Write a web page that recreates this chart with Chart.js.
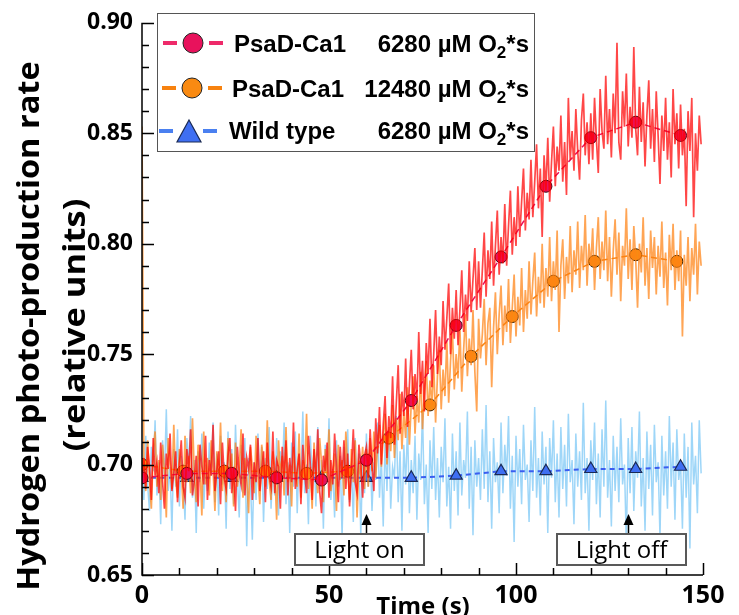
<!DOCTYPE html>
<html>
<head>
<meta charset="utf-8">
<title>Hydrogen photo-production</title>
<script src="https://cdn.jsdelivr.net/npm/chart.js@4.4.1/dist/chart.umd.min.js"></script>
<style>
    html, body { margin: 0; padding: 0; background: #fff; }
    #wrap { position: relative; width: 739px; height: 615px; overflow: hidden; }
    #myChart { position: absolute; left: 0; top: 0; }
    .legend {
        position: absolute; left: 157px; top: 13px; width: 378px; height: 139px;
        box-sizing: border-box; border: 1.5px solid #555;
        font-family: "Liberation Sans", Arial, sans-serif; font-weight: bold; font-size: 24px; color: #000;
    }
    .legend svg { position: absolute; left: -1.5px; top: -1.5px; }
    .legend span { position: absolute; line-height: 26px; white-space: nowrap; }
    .legend .dose { right: 5px; }
    .legend sub { font-size: 17px; vertical-align: -6px; line-height: 0; }
    .note {
        position: absolute; top: 533px; height: 33px; box-sizing: border-box;
        border: 2px solid #595959; background: #fff;
        font-family: "Open Sans", sans-serif; font-size: 24px; line-height: 28px; text-align: center; color: #000;
    }
</style>
</head>
<body>
<div id="wrap">
    <canvas id="myChart" width="739" height="615"></canvas>
    <div class="legend">
        <svg width="378" height="139">
            <line x1="6" y1="30" x2="20" y2="30" stroke="#ee2a6a" stroke-width="4"/>
            <line x1="52" y1="30" x2="66" y2="30" stroke="#ee2a6a" stroke-width="4"/>
            <circle cx="36" cy="30" r="10" fill="#e8125c" stroke="#222" stroke-width="1"/>
            <line x1="5" y1="75" x2="19" y2="75" stroke="#f7820f" stroke-width="4"/>
            <line x1="51" y1="75" x2="65" y2="75" stroke="#f7820f" stroke-width="4"/>
            <circle cx="35" cy="75" r="10" fill="#f98a12" stroke="#222" stroke-width="1"/>
            <line x1="2" y1="118" x2="16" y2="118" stroke="#4a80f0" stroke-width="4"/>
            <line x1="46" y1="118" x2="60" y2="118" stroke="#4a80f0" stroke-width="4"/>
            <polygon points="32,107 44,129 20,129" fill="#3f6ff2" stroke="#1a2a55" stroke-width="1.2"/>
        </svg>
        <span style="left:76px; top:17px;">PsaD-Ca1</span>
        <span class="dose" style="top:17px;">6280 µM O<sub>2</sub>*s</span>
        <span style="left:74px; top:62px;">PsaD-Ca1</span>
        <span class="dose" style="top:62px;">12480 µM O<sub>2</sub>*s</span>
        <span style="left:71px; top:104px;">Wild type</span>
        <span class="dose" style="top:104px;">6280 µM O<sub>2</sub>*s</span>
    </div>
    <div class="note" style="left:294px; width:131px;">Light on</div>
    <div class="note" style="left:556px; width:131px;">Light off</div>
</div>
<script>
// traces sampled every 0.5 s, t = 0 .. 149.5 s
const sampleStep = 0.5;

const redRate = [
    0.694, 0.703, 0.689, 0.708, 0.699, 0.684, 0.712, 0.695, 0.701, 0.687,
    0.710, 0.692, 0.680, 0.705, 0.698, 0.714, 0.688, 0.696, 0.706, 0.683,
    0.700, 0.711, 0.690, 0.685, 0.707, 0.697, 0.716, 0.686, 0.693, 0.704,
    0.681, 0.709, 0.699, 0.691, 0.713, 0.684, 0.702, 0.695, 0.718, 0.688,
    0.697, 0.706, 0.682, 0.710, 0.694, 0.689, 0.704, 0.712, 0.687, 0.699,
    0.679, 0.708, 0.696, 0.691, 0.714, 0.686, 0.703, 0.698, 0.709, 0.684,
    0.701, 0.692, 0.712, 0.688, 0.697, 0.706, 0.683, 0.710, 0.695, 0.690,
    0.715, 0.687, 0.702, 0.699, 0.680, 0.708, 0.694, 0.711, 0.686, 0.703,
    0.692, 0.719, 0.689, 0.698, 0.705, 0.682, 0.709, 0.696, 0.687, 0.713,
    0.700, 0.684, 0.707, 0.693, 0.716, 0.688, 0.678, 0.704, 0.697, 0.710,
    0.685, 0.702, 0.691, 0.714, 0.699, 0.683, 0.708, 0.694, 0.711, 0.689,
    0.705, 0.681, 0.698, 0.716, 0.692, 0.687, 0.709, 0.700, 0.685, 0.704,
    0.708, 0.694, 0.716, 0.699, 0.688, 0.721, 0.705, 0.726, 0.700, 0.718,
    0.731, 0.703, 0.722, 0.712, 0.740, 0.709, 0.728, 0.745, 0.714, 0.733,
    0.722, 0.748, 0.717, 0.736, 0.752, 0.725, 0.741, 0.729, 0.760, 0.732,
    0.747, 0.724, 0.755, 0.741, 0.766, 0.735, 0.750, 0.770, 0.741, 0.758,
    0.745, 0.774, 0.752, 0.766, 0.782, 0.750, 0.771, 0.757, 0.779, 0.754,
    0.770, 0.788, 0.760, 0.777, 0.765, 0.792, 0.769, 0.784, 0.798, 0.770,
    0.792, 0.771, 0.788, 0.805, 0.776, 0.797, 0.784, 0.810, 0.781, 0.799,
    0.815, 0.786, 0.803, 0.791, 0.818, 0.790, 0.808, 0.824, 0.795, 0.812,
    0.799, 0.826, 0.803, 0.819, 0.834, 0.806, 0.823, 0.811, 0.838, 0.812,
    0.828, 0.845, 0.816, 0.834, 0.803, 0.840, 0.824, 0.848, 0.819, 0.837,
    0.853, 0.826, 0.844, 0.833, 0.858, 0.828, 0.846, 0.822, 0.866, 0.838,
    0.851, 0.833, 0.861, 0.842, 0.829, 0.856, 0.868, 0.840, 0.855, 0.836,
    0.859, 0.838, 0.866, 0.847, 0.832, 0.870, 0.851, 0.843, 0.876, 0.845,
    0.861, 0.839, 0.868, 0.850, 0.891, 0.846, 0.838, 0.869, 0.853, 0.877,
    0.844, 0.862, 0.848, 0.889, 0.852, 0.840, 0.871, 0.846, 0.864, 0.835,
    0.858, 0.874, 0.843, 0.861, 0.837, 0.869, 0.849, 0.827, 0.858, 0.842,
    0.866, 0.838, 0.855, 0.830, 0.870, 0.845, 0.859, 0.834, 0.863, 0.840,
    0.852, 0.817, 0.860, 0.842, 0.866, 0.812, 0.850, 0.833, 0.858, 0.845
];

const orangeRate = [
    0.853, 0.699, 0.688, 0.711, 0.693, 0.680, 0.706, 0.715, 0.690, 0.702,
    0.684, 0.709, 0.697, 0.676, 0.712, 0.701, 0.689, 0.718, 0.693, 0.685,
    0.707, 0.698, 0.680, 0.713, 0.692, 0.704, 0.687, 0.721, 0.695, 0.683,
    0.709, 0.700, 0.677, 0.715, 0.691, 0.703, 0.686, 0.711, 0.698, 0.679,
    0.706, 0.694, 0.719, 0.688, 0.700, 0.683, 0.712, 0.696, 0.705, 0.681,
    0.710, 0.690, 0.698, 0.716, 0.685, 0.703, 0.694, 0.678, 0.708, 0.699,
    0.687, 0.713, 0.696, 0.682, 0.709, 0.701, 0.690, 0.720, 0.693, 0.684,
    0.706, 0.698, 0.675, 0.711, 0.695, 0.704, 0.686, 0.717, 0.692, 0.700,
    0.681, 0.708, 0.697, 0.690, 0.714, 0.685, 0.702, 0.694, 0.723, 0.689,
    0.699, 0.680, 0.710, 0.696, 0.687, 0.712, 0.701, 0.683, 0.707, 0.694,
    0.716, 0.688, 0.697, 0.705, 0.679, 0.709, 0.693, 0.702, 0.686, 0.715,
    0.698, 0.684, 0.707, 0.692, 0.711, 0.676, 0.700, 0.695, 0.708, 0.689,
    0.707, 0.690, 0.712, 0.697, 0.715, 0.694, 0.709, 0.718, 0.699, 0.712,
    0.723, 0.700, 0.717, 0.706, 0.727, 0.703, 0.721, 0.711, 0.732, 0.707,
    0.724, 0.712, 0.735, 0.709, 0.728, 0.740, 0.714, 0.731, 0.719, 0.742,
    0.716, 0.733, 0.747, 0.722, 0.738, 0.727, 0.745, 0.719, 0.740, 0.752,
    0.725, 0.743, 0.731, 0.756, 0.728, 0.747, 0.761, 0.734, 0.750, 0.739,
    0.762, 0.733, 0.752, 0.768, 0.740, 0.757, 0.745, 0.770, 0.742, 0.724,
    0.766, 0.748, 0.759, 0.775, 0.745, 0.764, 0.771, 0.735, 0.762, 0.778,
    0.750, 0.768, 0.781, 0.754, 0.772, 0.760, 0.784, 0.755, 0.771, 0.786,
    0.758, 0.776, 0.763, 0.789, 0.760, 0.779, 0.766, 0.792, 0.768, 0.783,
    0.796, 0.767, 0.785, 0.773, 0.800, 0.771, 0.789, 0.776, 0.803, 0.774,
    0.792, 0.779, 0.806, 0.760, 0.790, 0.802, 0.775, 0.794, 0.782, 0.808,
    0.778, 0.797, 0.786, 0.810, 0.780, 0.799, 0.788, 0.813, 0.781, 0.800,
    0.790, 0.807, 0.779, 0.798, 0.812, 0.784, 0.801, 0.788, 0.815, 0.783,
    0.803, 0.776, 0.797, 0.811, 0.786, 0.805, 0.774, 0.799, 0.790, 0.816,
    0.784, 0.802, 0.779, 0.808, 0.793, 0.771, 0.800, 0.787, 0.812, 0.781,
    0.798, 0.775, 0.806, 0.789, 0.803, 0.777, 0.799, 0.785, 0.810, 0.780,
    0.796, 0.772, 0.804, 0.788, 0.809, 0.779, 0.797, 0.783, 0.806, 0.758,
    0.795, 0.781, 0.803, 0.774, 0.798, 0.786, 0.809, 0.777, 0.801, 0.790
];

const wildRate = [
    0.702, 0.684, 0.713, 0.691, 0.679, 0.708, 0.697, 0.720, 0.686, 0.701,
    0.673, 0.711, 0.694, 0.725, 0.688, 0.699, 0.670, 0.707, 0.690, 0.716,
    0.681, 0.704, 0.693, 0.675, 0.712, 0.698, 0.722, 0.685, 0.702, 0.669,
    0.706, 0.692, 0.714, 0.680, 0.700, 0.688, 0.710, 0.695, 0.719, 0.683,
    0.705, 0.677, 0.713, 0.691, 0.701, 0.671, 0.715, 0.689, 0.707, 0.682,
    0.718, 0.694, 0.676, 0.709, 0.687, 0.712, 0.663, 0.703, 0.693, 0.666,
    0.701, 0.684, 0.714, 0.690, 0.708, 0.674, 0.703, 0.689, 0.717, 0.680,
    0.699, 0.686, 0.712, 0.677, 0.706, 0.694, 0.719, 0.682, 0.701, 0.669,
    0.710, 0.690, 0.715, 0.678, 0.704, 0.693, 0.724, 0.687, 0.700, 0.673,
    0.713, 0.695, 0.706, 0.681, 0.717, 0.689, 0.702, 0.671, 0.709, 0.692,
    0.721, 0.684, 0.698, 0.676, 0.711, 0.690, 0.704, 0.667, 0.708, 0.694,
    0.716, 0.683, 0.700, 0.674, 0.712, 0.691, 0.705, 0.668, 0.703, 0.687,
    0.714, 0.690, 0.707, 0.679, 0.701, 0.693, 0.719, 0.685, 0.703, 0.672,
    0.711, 0.688, 0.716, 0.680, 0.699, 0.694, 0.722, 0.683, 0.706, 0.670,
    0.709, 0.691, 0.718, 0.678, 0.702, 0.687, 0.713, 0.675, 0.705, 0.693,
    0.725, 0.682, 0.700, 0.669, 0.711, 0.689, 0.717, 0.684, 0.703, 0.676,
    0.708, 0.692, 0.721, 0.681, 0.699, 0.671, 0.714, 0.688, 0.706, 0.677,
    0.719, 0.686, 0.702, 0.694, 0.724, 0.680, 0.708, 0.668, 0.711, 0.690,
    0.703, 0.684, 0.716, 0.689, 0.727, 0.683, 0.706, 0.671, 0.712, 0.692,
    0.701, 0.678, 0.719, 0.687, 0.709, 0.695, 0.722, 0.680, 0.704, 0.665,
    0.713, 0.690, 0.707, 0.682, 0.718, 0.693, 0.700, 0.674, 0.711, 0.688,
    0.726, 0.685, 0.703, 0.677, 0.715, 0.691, 0.708, 0.669, 0.712, 0.694,
    0.720, 0.683, 0.705, 0.676, 0.717, 0.689, 0.709, 0.681, 0.723, 0.692,
    0.702, 0.673, 0.714, 0.690, 0.706, 0.684, 0.728, 0.687, 0.703, 0.670,
    0.711, 0.693, 0.719, 0.682, 0.705, 0.676, 0.716, 0.690, 0.729, 0.685,
    0.702, 0.672, 0.713, 0.688, 0.708, 0.683, 0.721, 0.691, 0.700, 0.664,
    0.712, 0.687, 0.717, 0.679, 0.706, 0.694, 0.724, 0.681, 0.703, 0.670,
    0.715, 0.689, 0.709, 0.677, 0.718, 0.692, 0.701, 0.667, 0.713, 0.686,
    0.706, 0.680, 0.722, 0.690, 0.710, 0.675, 0.716, 0.693, 0.701, 0.671,
    0.714, 0.685, 0.708, 0.662, 0.719, 0.691, 0.704, 0.678, 0.720, 0.696
];

// smoothed marker points
const redMarkTime = [0, 12, 24, 36, 48, 60, 72, 84, 96, 108, 120, 132, 144];
const redMarkRate = [0.694, 0.696, 0.696, 0.694, 0.693, 0.702, 0.729, 0.763, 0.794, 0.826, 0.848, 0.855, 0.849];
const orangeMarkTime = [0, 11, 22, 33, 44, 55, 66, 77, 88, 99, 110, 121, 132, 143];
const orangeMarkRate = [0.700, 0.697, 0.697, 0.697, 0.696, 0.697, 0.712, 0.727, 0.749, 0.767, 0.783, 0.792, 0.795, 0.792];
const wildMarkTime = [0, 12, 24, 36, 48, 60, 72, 84, 96, 108, 120, 132, 144];
const wildMarkRate = [0.694, 0.694, 0.694, 0.694, 0.694, 0.694, 0.694, 0.695, 0.697, 0.697, 0.698, 0.698, 0.699];

const lightOnTime = 60;
const lightOffTime = 130;

function trace(values) {
    return values.map((v, i) => ({ x: i * sampleStep, y: v }));
}
function marks(times, values) {
    return times.map((t, i) => ({ x: t, y: values[i] }));
}

// axis lines, inward ticks, light arrows and axis titles
const axisDecor = {
    id: 'axisDecor',
    afterDraw(chart) {
        const ctx = chart.ctx;
        const area = chart.chartArea;
        const x = chart.scales.x;
        const y = chart.scales.y;
        ctx.save();
        ctx.strokeStyle = '#000';
        ctx.lineWidth = 1.5;
        ctx.beginPath();
        ctx.moveTo(area.left, area.top);
        ctx.lineTo(area.left, area.bottom);
        ctx.lineTo(area.right, area.bottom);
        y.ticks.forEach(function(t) {
            let py = Math.round(y.getPixelForValue(t.value)) + 0.5;
            let major = Math.round(t.value * 100) % 5 === 0;
            ctx.moveTo(area.left, py);
            ctx.lineTo(area.left + (major ? 12 : 7), py);
        });
        x.ticks.forEach(function(t) {
            let px = Math.round(x.getPixelForValue(t.value)) + 0.5;
            let major = t.value % 50 === 0;
            ctx.moveTo(px, area.bottom);
            ctx.lineTo(px, area.bottom - (major ? 12 : 7));
        });
        ctx.stroke();

        // arrows over the light boxes
        [lightOnTime, lightOffTime].forEach(function(t) {
            let px = Math.round(x.getPixelForValue(t)) + 0.5;
            ctx.beginPath();
            ctx.moveTo(px, 533);
            ctx.lineTo(px, 522);
            ctx.stroke();
            ctx.beginPath();
            ctx.moveTo(px, 514);
            ctx.lineTo(px + 5, 525);
            ctx.lineTo(px - 5, 525);
            ctx.closePath();
            ctx.fillStyle = '#000';
            ctx.fill();
        });

        ctx.fillStyle = '#000';
        ctx.textAlign = 'center';
        ctx.font = 'bold 24px "Open Sans"';
        ctx.textBaseline = 'alphabetic';
        ctx.fillText('Time (s)', 423, 614);

        // y title, stretched along its length like the original figure
        ctx.font = 'bold 31px "Open Sans"';
        ctx.textBaseline = 'middle';
        ctx.save();
        ctx.translate(30, 326);
        ctx.rotate(-Math.PI / 2);
        ctx.scale(1.05, 1);
        ctx.fillText('Hydrogen photo-production rate', 0, 0);
        ctx.restore();
        ctx.save();
        ctx.translate(76, 325);
        ctx.rotate(-Math.PI / 2);
        ctx.scale(1.11, 1);
        ctx.fillText('(relative units)', 0, 0);
        ctx.restore();
        ctx.restore();
    }
};

let ctx = document.getElementById('myChart').getContext('2d');
new Chart(ctx, {
    type: 'scatter',
    data: {
        datasets: [
            {
                label: 'PsaD-Ca1 6280',
                data: trace(redRate),
                showLine: true,
                borderColor: 'rgba(255, 0, 0, 0.72)',
                borderWidth: 1.7,
                pointRadius: 0,
                order: 0
            },
            {
                label: 'PsaD-Ca1 6280 markers',
                data: marks(redMarkTime, redMarkRate),
                showLine: true,
                borderColor: '#e8125c',
                borderWidth: 1.5,
                borderDash: [6, 4],
                pointRadius: 6,
                pointBackgroundColor: '#e8125c',
                pointBorderColor: '#3a0a14',
                pointBorderWidth: 1,
                order: 1
            },
            {
                label: 'PsaD-Ca1 12480',
                data: trace(orangeRate),
                showLine: true,
                borderColor: 'rgba(255, 130, 20, 0.72)',
                borderWidth: 1.7,
                pointRadius: 0,
                order: 2
            },
            {
                label: 'PsaD-Ca1 12480 markers',
                data: marks(orangeMarkTime, orangeMarkRate),
                showLine: true,
                borderColor: '#f7820f',
                borderWidth: 1.5,
                borderDash: [6, 4],
                pointRadius: 6,
                pointBackgroundColor: '#f98a12',
                pointBorderColor: '#3a2000',
                pointBorderWidth: 1,
                order: 3
            },
            {
                label: 'Wild type markers',
                data: marks(wildMarkTime, wildMarkRate),
                showLine: true,
                borderColor: '#3a5ef0',
                borderWidth: 2,
                borderDash: [5, 4],
                pointStyle: 'triangle',
                pointRadius: 7,
                pointBackgroundColor: '#3f6ff2',
                pointBorderColor: '#1a2a55',
                pointBorderWidth: 1.2,
                order: 4
            },
            {
                label: 'Wild type',
                data: trace(wildRate),
                showLine: true,
                borderColor: 'rgba(125, 200, 245, 0.75)',
                borderWidth: 1.5,
                pointRadius: 0,
                order: 5
            }
        ]
    },
    options: {
        responsive: false,
        animation: false,
        devicePixelRatio: 1,
        layout: { padding: { top: 15, right: 36, left: 0, bottom: 0 } },
        plugins: {
            legend: { display: false },
            tooltip: { enabled: false }
        },
        scales: {
            x: {
                type: 'linear',
                min: 0,
                max: 150,
                afterFit: function(scale) { scale.height = 40; },
                grid: { display: false, drawTicks: false },
                border: { display: false },
                ticks: {
                    stepSize: 10,
                    autoSkip: false,
                    maxRotation: 0,
                    padding: 6,
                    color: '#000',
                    font: { family: 'Open Sans', size: 25, weight: 'bold' },
                    callback: function(v) { return v % 50 === 0 ? String(v) : ''; }
                }
            },
            y: {
                type: 'linear',
                min: 0.65,
                max: 0.90,
                afterFit: function(scale) { scale.width = 142; },
                grid: { display: false, drawTicks: false },
                border: { display: false },
                ticks: {
                    stepSize: 0.01,
                    autoSkip: false,
                    padding: 9,
                    color: '#000',
                    font: { family: 'Open Sans', size: 23, weight: 'bold' },
                    callback: function(v) {
                        let c = Math.round(v * 100);
                        return c % 5 === 0 ? (c / 100).toFixed(2) : '';
                    }
                }
            }
        }
    },
    plugins: [axisDecor]
});
</script>
</body>
</html>
